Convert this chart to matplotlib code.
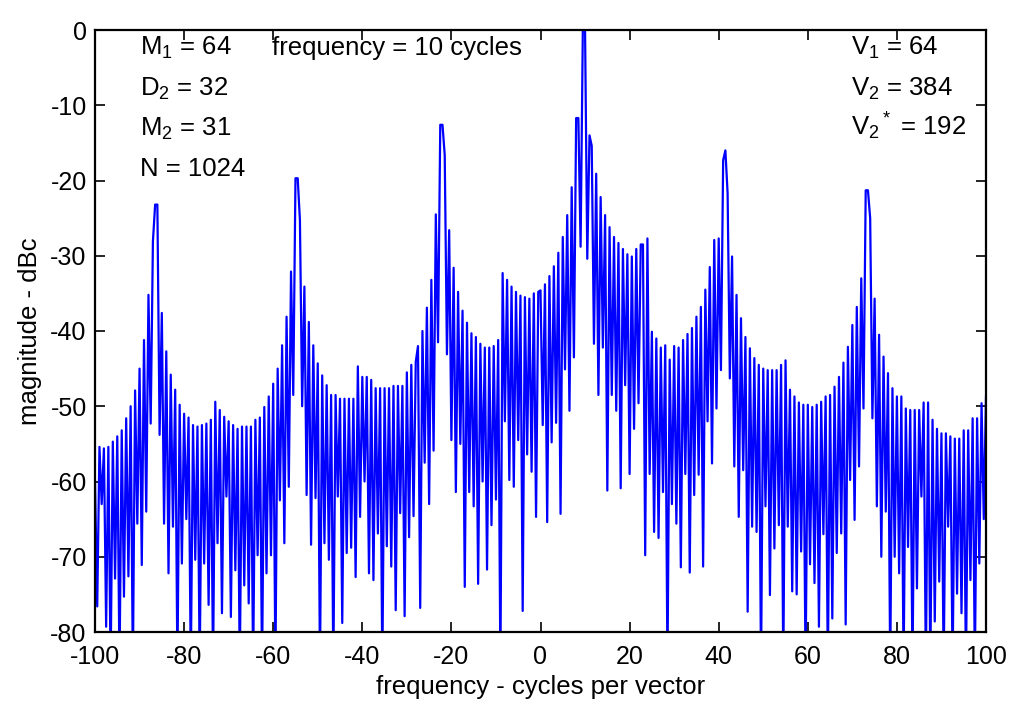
import numpy as np
import matplotlib
matplotlib.use("Agg")
import matplotlib.pyplot as plt

plt.rcParams['font.family'] = ['Liberation Sans', 'DejaVu Sans']
plt.rcParams['mathtext.fontset'] = 'custom'
plt.rcParams['mathtext.rm'] = 'Liberation Sans'
plt.rcParams['mathtext.it'] = 'Liberation Sans'
plt.rcParams['mathtext.default'] = 'regular'
plt.rcParams['axes.unicode_minus'] = False

# ---- data: magnitude (dBc) sampled every 0.5 cycle from -100 to 100 ----
freq_start, freq_stop = -100.0, 100.0

mag_m100_m50 = [
    -60.0, -76.6, -55.4, -63.0, -55.6, -79.3, -55.4, -85.0, -54.7, -72.9,
    -54.0, -85.0, -53.2, -75.3, -51.6, -72.6, -50.0, -85.0, -47.9, -65.6,
    -45.0, -71.1, -41.2, -64.0, -35.2, -52.3, -28.1, -23.2, -23.2, -53.8,
    -37.6, -65.6, -42.7, -72.2, -45.8, -66.0, -47.8, -85.0, -49.8, -70.9,
    -51.0, -65.0, -51.5, -85.0, -52.5, -70.4, -52.7, -85.0, -52.5, -70.9,
    -52.3, -76.4, -51.8, -85.0, -49.4, -68.2, -50.5, -77.5, -51.4, -62.0,
    -52.0, -78.0, -52.5, -71.8, -53.0, -85.0, -52.7, -73.8, -52.7, -76.2,
    -52.7, -85.0, -51.8, -69.8, -51.5, -85.0, -50.1, -72.2, -48.7, -69.8,
    -47.0, -85.0, -45.0, -62.5, -41.9, -68.2, -38.1, -60.7, -32.1, -48.5,
    -19.7, -19.7, -25.3, -50.0, -34.1, -61.8, -38.8, -68.4, -41.9, -62.2,
]
mag_m50_0 = [
    -44.3, -85.0, -45.9, -68.2, -47.2, -70.4, -48.5, -85.0, -48.5, -62.0,
    -49.0, -78.8, -49.0, -69.5, -49.0, -68.8, -49.0, -72.7, -44.7, -64.7,
    -46.1, -60.0, -46.1, -72.2, -46.5, -73.1, -47.6, -66.9, -47.6, -85.0,
    -47.6, -68.6, -47.6, -71.3, -47.3, -77.1, -47.3, -64.2, -47.3, -77.9,
    -45.5, -67.4, -44.5, -64.6, -44.1, -42.0, -76.8, -40.0, -57.5, -36.9,
    -63.0, -33.2, -55.9, -24.5, -41.5, -12.6, -12.6, -16.6, -43.1, -26.6,
    -54.5, -31.6, -61.4, -34.8, -55.0, -37.3, -74.0, -38.9, -61.4, -40.3,
    -63.3, -40.8, -73.6, -41.7, -60.0, -42.2, -71.7, -42.2, -65.8, -42.0,
    -62.4, -41.2, -85.0, -32.3, -52.0, -33.2, -59.8, -34.1, -60.7, -34.8,
    -54.5, -35.3, -77.2, -35.5, -56.4, -35.7, -58.7, -35.0, -64.7, -34.8,
]
mag_0_50 = [
    -34.6, -52.5, -33.8, -65.4, -32.7, -54.8, -31.4, -52.2, -29.6, -64.3,
    -27.5, -45.1, -24.6, -50.6, -20.9, -43.5, -11.7, -11.7, -28.8, 0.0,
    0.0, -30.4, -14.0, -15.4, -41.7, -19.1, -48.5, -22.2, -42.2, -24.6,
    -61.2, -26.2, -48.5, -27.5, -50.6, -28.3, -60.9, -29.1, -47.2, -29.8,
    -59.0, -30.1, -53.0, -29.1, -49.6, -28.5, -28.5, -69.8, -27.7, -59.0,
    -40.1, -66.7, -41.0, -67.5, -42.2, -61.4, -41.9, -85.0, -43.8, -63.0,
    -42.0, -65.6, -42.2, -71.4, -41.2, -59.0, -40.4, -72.1, -39.6, -61.8,
    -38.1, -59.1, -36.8, -71.3, -34.5, -52.0, -31.5, -57.6, -27.9, -50.3,
    -27.7, -45.2, -17.3, -16.0, -21.7, -46.3, -30.1, -58.0, -35.2, -64.7,
    -38.3, -58.5, -40.8, -77.3, -42.3, -66.0, -43.6, -66.7, -44.5, -85.0,
]
mag_50_100 = [
    -45.0, -63.3, -45.2, -75.1, -45.2, -68.9, -45.2, -65.8, -44.5, -85.0,
    -43.9, -66.0, -47.8, -74.6, -48.7, -75.0, -49.5, -69.3, -49.8, -85.0,
    -49.8, -71.0, -50.1, -73.5, -49.8, -79.3, -49.4, -67.0, -48.7, -85.0,
    -48.5, -78.2, -47.4, -69.5, -46.1, -66.9, -44.2, -79.0, -42.1, -59.8,
    -39.2, -65.1, -36.8, -58.0, -33.0, -50.3, -21.3, -21.3, -25.0, -51.6,
    -35.7, -63.3, -40.5, -70.0, -43.4, -64.0, -45.6, -85.0, -47.6, -70.0,
    -48.7, -72.2, -48.7, -85.0, -50.3, -68.7, -50.5, -85.0, -50.5, -74.2,
    -50.5, -62.0, -49.5, -85.0, -49.5, -85.0, -51.8, -78.6, -53.0, -73.3,
    -53.6, -85.0, -53.6, -66.0, -54.0, -85.0, -54.3, -74.9, -54.3, -77.5,
    -53.2, -85.0, -53.2, -73.1, -51.6, -85.0, -51.6, -70.9, -49.6, -65.0,
    -48.7,
]

x_ticks = [-100, -80, -60, -40, -20, 0, 20, 40, 60, 80, 100]
y_ticks = [0, -10, -20, -30, -40, -50, -60, -70, -80]

left_notes = ['M$_1$ = 64', 'D$_2$ = 32', 'M$_2$ = 31', 'N = 1024']
right_notes = ['V$_1$ = 64', 'V$_2$ = 384', 'V$_2{}^*$ = 192']
freq_note = 'frequency = 10 cycles'

magnitude = np.array(mag_m100_m50 + mag_m50_0 + mag_0_50 + mag_50_100)
freq = np.linspace(freq_start, freq_stop, len(magnitude))

# ---- figure ----
fig = plt.figure(figsize=(10.11, 7.07), dpi=100)
ax = fig.add_axes([95 / 1011, 1 - 632 / 707, 891 / 1011, 602 / 707])
ax.plot(freq, magnitude, color='#0000ff', linewidth=1.6)

ax.set_xlim(-100, 100)
ax.set_ylim(-80, 0)
ax.set_xticks(x_ticks)
ax.set_yticks(y_ticks)
ax.tick_params(direction='in', top=True, right=True, length=7, width=1.2,
               labelsize=18)
ax.tick_params(axis='x', pad=9)
ax.tick_params(axis='y', pad=6)
for s in ax.spines.values():
    s.set_linewidth(1.6)

ax.set_xlabel('frequency - cycles per vector', fontsize=18.5, labelpad=5)
ax.set_ylabel('magnitude - dBc', fontsize=18.5, labelpad=6)

note_fs = 18.5
for i, t in enumerate(left_notes):
    ax.text(0.0505, 0.958 - i * 0.0667, t, transform=ax.transAxes,
            fontsize=note_fs, va='baseline', ha='left')
ax.text(0.1987, 0.958, freq_note, transform=ax.transAxes,
        fontsize=note_fs, va='baseline', ha='left')
for i, t in enumerate(right_notes):
    ax.text(0.8485, 0.958 - i * 0.0667, t, transform=ax.transAxes,
            fontsize=note_fs, va='baseline', ha='left')

fig.savefig('out.png', dpi=100)
